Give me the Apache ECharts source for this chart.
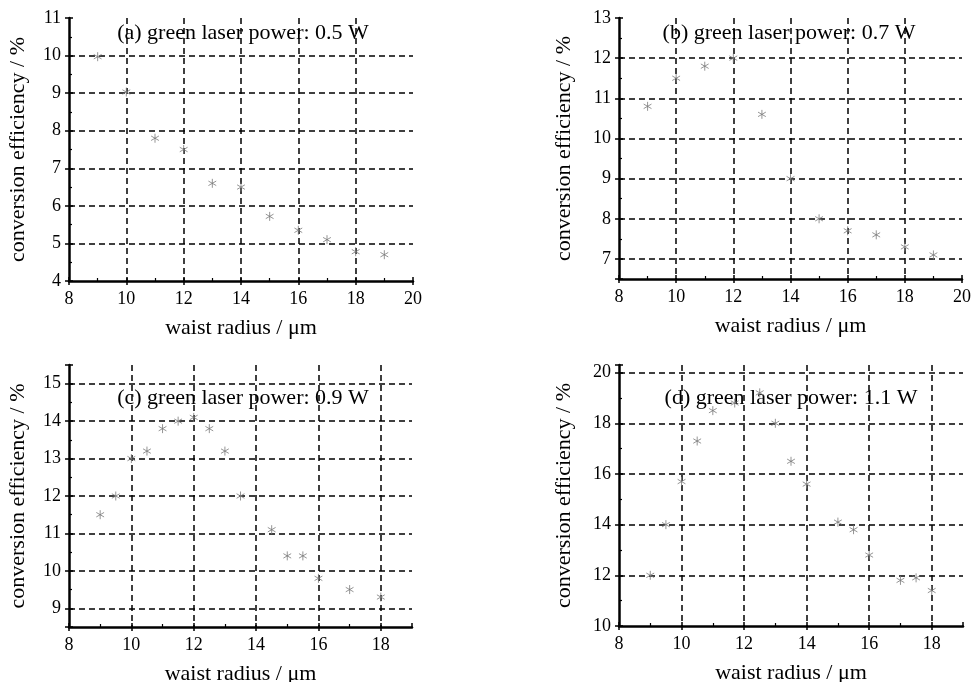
<!DOCTYPE html>
<html>
<head>
<meta charset="utf-8">
<script src="https://cdn.jsdelivr.net/npm/echarts@6/dist/echarts.min.js"></script>
<style>
  html, body { margin: 0; padding: 0; background: #fff; }
  #chart { width: 975px; height: 682px; }
</style>
</head>
<body>
<div id="chart"></div>
<script>
// Conversion efficiency versus waist radius at four green laser powers
const panelTitles = [
  '(a) green laser power: 0.5 W',
  '(b) green laser power: 0.7 W',
  '(c) green laser power: 0.9 W',
  '(d) green laser power: 1.1 W'
];

const radiusA = [9, 10, 11, 12, 13, 14, 15, 16, 17, 18, 19];
const effA = [9.97, 9.03, 7.8, 7.5, 6.6, 6.5, 5.72, 5.35, 5.1, 4.78, 4.7];

const radiusB = [9, 10, 11, 12, 13, 14, 15, 16, 17, 18, 19];
const effB = [10.8, 11.5, 11.8, 12.0, 10.6, 9.0, 8.0, 7.7, 7.6, 7.3, 7.1];

const radiusC = [9, 9.5, 10, 10.5, 11, 11.5, 12, 12.5, 13, 13.5, 14.5, 15, 15.5, 16, 17, 18];
const effC = [11.5, 12.0, 13.0, 13.2, 13.8, 14.0, 14.1, 13.8, 13.2, 12.0, 11.1, 10.4, 10.4, 9.8, 9.5, 9.3];

const radiusD = [9, 9.5, 10, 10.5, 11, 11.7, 12.5, 13, 13.5, 14, 15, 15.5, 16, 17, 17.5, 18];
const effD = [12.0, 14.0, 15.7, 17.3, 18.5, 18.8, 19.2, 18.0, 16.5, 15.6, 14.1, 13.8, 12.8, 11.8, 11.9, 11.4];

// axis ranges: [xMin, xMax, xStep, yMin, yMax, yStep]
const rangeA = [8, 20, 2, 4, 11, 1];
const rangeB = [8, 20, 2, 6.5, 13, 1];
const rangeC = [8, 19, 2, 8.5, 15.5, 1];
const rangeD = [8, 19, 2, 10, 20.3, 2];

const xName = 'waist radius / \u03bcm';
const yName = 'conversion efficiency / %';

const FONT = 'Liberation Serif';

const grids = [
  { left: 69, top: 18, width: 344, height: 263 },
  { left: 619, top: 18, width: 343, height: 261 },
  { left: 69, top: 365, width: 343, height: 262 },
  { left: 619, top: 365, width: 344, height: 261 }
];
const titlePos = [[243, 22], [789, 22], [243, 387], [791, 387]];

const panels = [
  { x: radiusA, y: effA, r: rangeA },
  { x: radiusB, y: effB, r: rangeB },
  { x: radiusC, y: effC, r: rangeC },
  { x: radiusD, y: effD, r: rangeD }
];

const gridDash = { color: '#000', width: 1.5, type: [6, 4] };

function isMultiple(v, step) {
  const q = v / step;
  return Math.abs(q - Math.round(q)) < 1e-6;
}

// scale settings: a fixed interval when min sits on it, otherwise a split count
function scaleOpts(min, max, step) {
  const o = { min: min, max: max };
  if (isMultiple(min, step)) o.interval = step;
  else o.splitNumber = Math.round((max - min) / step);
  return o;
}

function labelFmt(step) {
  return function (v) { return isMultiple(v, step) ? String(Math.round(v * 100) / 100) : ''; };
}

const xAxes = [], yAxes = [];
// main axes: line, labels, outward ticks, dashed grid
panels.forEach((p, i) => {
  const r = p.r;
  xAxes.push(Object.assign({
    type: 'value', gridIndex: i, position: 'bottom', z: 3,
    name: xName, nameLocation: 'middle', nameGap: 36,
    nameTextStyle: { fontFamily: FONT, fontSize: 22, color: '#000' },
    axisLine: { show: true, onZero: false, lineStyle: { color: '#000', width: 2.5 } },
    axisTick: { show: true, inside: false, length: 4, lineStyle: { color: '#000', width: 1.5 } },
    axisLabel: { show: true, margin: 9, fontFamily: FONT, fontSize: 18, color: '#000', formatter: labelFmt(r[2]), showMaxLabel: isMultiple(r[1], r[2]) },
    splitLine: { show: true, showMinLine: false, showMaxLine: false, lineStyle: gridDash }
  }, scaleOpts(r[0], r[1], r[2])));
  yAxes.push(Object.assign({
    type: 'value', gridIndex: i, position: 'left', z: 3,
    name: yName, nameLocation: 'middle', nameGap: i % 2 === 0 ? 40 : 44,
    nameTextStyle: { fontFamily: FONT, fontSize: 22, color: '#000' },
    axisLine: { show: true, onZero: false, lineStyle: { color: '#000', width: 2.5 } },
    axisTick: { show: true, inside: false, length: 4, lineStyle: { color: '#000', width: 1.5 } },
    axisLabel: { show: true, margin: 8, fontFamily: FONT, fontSize: 18, color: '#000', formatter: labelFmt(r[5]) },
    splitLine: { show: true, showMinLine: false, showMaxLine: false, lineStyle: gridDash }
  }, scaleOpts(r[3], r[4], r[5])));
});
// companion axes: inward major and minor ticks only
panels.forEach((p, i) => {
  const r = p.r;
  const common = {
    type: 'value', gridIndex: i, z: 3,
    axisLine: { show: false },
    axisLabel: { show: false },
    splitLine: { show: false },
    axisTick: { show: true, inside: true, length: 4, lineStyle: { color: '#000', width: 1.5 } },
    minorTick: { show: true, splitNumber: 2, length: 3, lineStyle: { color: '#000', width: 1.2 } },
    minorSplitLine: { show: false }
  };
  xAxes.push(Object.assign({ position: 'bottom' }, common, scaleOpts(r[0], r[1], r[2])));
  yAxes.push(Object.assign({ position: 'left' }, common, scaleOpts(r[3], r[4], r[5])));
});

// six-armed asterisk marker, stroked
const starPath = 'path://M5,0L5,10M0.67,2.5L9.33,7.5M0.67,7.5L9.33,2.5';

const series = panels.map((p, i) => ({
  type: 'scatter',
  xAxisIndex: i,
  yAxisIndex: i,
  symbol: starPath,
  symbolSize: 9,
  symbolKeepAspect: true,
  itemStyle: { color: 'rgba(0,0,0,0)', borderColor: '#7a7a7a', borderWidth: 1 },
  z: 4,
  silent: true,
  data: p.x.map((v, k) => [v, p.y[k]])
}));

const chart = echarts.init(document.getElementById('chart'), null, { renderer: 'canvas' });
chart.setOption({
  backgroundColor: '#fff',
  animation: false,
  title: panelTitles.map((t, i) => ({
    text: t, left: titlePos[i][0], top: titlePos[i][1], textAlign: 'center',
    padding: 0, z: 0,
    textStyle: { fontFamily: FONT, fontSize: 22, fontWeight: 'normal', color: '#000' }
  })),
  grid: grids.map(g => Object.assign({ outerBoundsMode: 'none', containLabel: false }, g)),
  xAxis: xAxes,
  yAxis: yAxes,
  series: series
});
</script>
</body>
</html>
